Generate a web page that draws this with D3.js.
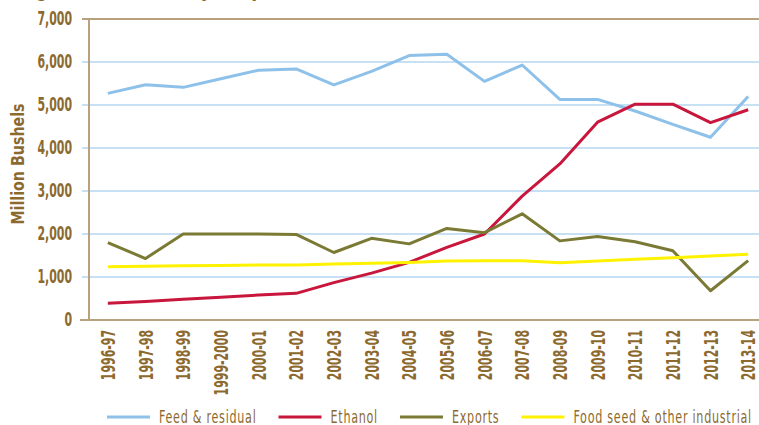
<!DOCTYPE html>
<html>
<head>
<meta charset="utf-8">
<script src="https://cdn.jsdelivr.net/npm/d3@7"></script>
<style>
  body { margin: 0; background: #fff; overflow: hidden; }
  text { font-family: "DejaVu Sans Condensed", "Liberation Sans", sans-serif; fill: #8c6a2f; }
</style>
</head>
<body>
<svg id="chart"></svg>
<script>
'use strict';

var width = 759, height = 425;

var categories = ['1996-97', '1997-98', '1998-99', '1999-2000', '2000-01', '2001-02', '2002-03', '2003-04', '2004-05',
  '2005-06', '2006-07', '2007-08', '2008-09', '2009-10', '2010-11', '2011-12', '2012-13', '2013-14'];
var feed_residual = [5270, 5470, 5410, 5610, 5810, 5840, 5470, 5780, 6150, 6180, 5550, 5930, 5130, 5130, 4860, 4550, 4250, 5200];
var ethanol = [390, 430, 480, 530, 580, 620, 870, 1090, 1340, 1690, 2000, 2880, 3630, 4600, 5020, 5020, 4590, 4890];
var exports_ = [1800, 1430, 2000, 2000, 2000, 1990, 1570, 1900, 1770, 2130, 2030, 2470, 1840, 1940, 1820, 1610, 680, 1380];
var food_seed = [1240, 1250, 1260, 1270, 1280, 1280, 1300, 1320, 1340, 1370, 1380, 1380, 1330, 1370, 1410, 1450, 1490, 1530];
var series_names = ['Feed & residual', 'Ethanol', 'Exports', 'Food seed & other industrial'];
var series_colors = ['#8ec1e9', '#c8163c', '#7b7a35', '#fff200'];
var y_ticks = [0, 1000, 2000, 3000, 4000, 5000, 6000, 7000];

var series = [feed_residual, ethanol, exports_, food_seed];

// the reference uses a tall condensed face; squeeze the condensed sans to match
var squeeze = 0.64;

var svg = d3.select('#chart').attr('width', width).attr('height', height);

var x = d3.scalePoint().domain(categories).range([89, 767]).padding(0.5);
var y = d3.scaleLinear().domain([0, 7000]).range([320, 19]);

// title, mostly above the visible frame
svg.append('text')
  .attr('transform', 'translate(0,-4) scale(0.8,1)')
  .style('font-size', '24px').style('font-weight', 'bold')
  .text('Usage of U.S. Corn by Purpose');

// gridlines
svg.selectAll('.grid').data(y_ticks.filter(function (d) { return d > 0 && d < 7000; }))
  .enter().append('line').attr('class', 'grid')
  .attr('x1', 82).attr('x2', 767)
  .attr('y1', function (d) { return y(d); }).attr('y2', function (d) { return y(d); })
  .style('stroke', '#b5d6f0').style('stroke-width', 1.5);

// top border at 7,000 and axes
svg.append('line').attr('x1', 82).attr('x2', 767).attr('y1', y(7000)).attr('y2', y(7000))
  .style('stroke', '#b8a27e').style('stroke-width', 2);
svg.append('line').attr('x1', 89).attr('x2', 89).attr('y1', y(7000)).attr('y2', y(0))
  .style('stroke', '#b8a27e').style('stroke-width', 2);
svg.append('line').attr('x1', 80).attr('x2', 767).attr('y1', y(0)).attr('y2', y(0))
  .style('stroke', '#b8a27e').style('stroke-width', 2);

// y tick labels
svg.selectAll('.y-label').data(y_ticks).enter().append('text').attr('class', 'y-label')
  .attr('text-anchor', 'end')
  .attr('transform', function (d) { return 'translate(72,' + (y(d) + 6) + ') scale(' + squeeze + ',1)'; })
  .style('font-size', '19px').style('font-weight', 'bold')
  .text(function (d) { return d3.format(',')(d); });

// x tick labels, rotated
svg.selectAll('.x-label').data(categories).enter().append('text').attr('class', 'x-label')
  .attr('text-anchor', 'end')
  .attr('transform', function (d) { return 'translate(' + (x(d) + 7) + ',330) rotate(-90) scale(' + squeeze + ',1)'; })
  .style('font-size', '19px').style('font-weight', 'bold')
  .text(function (d) { return d; });

// axis title
svg.append('text').attr('text-anchor', 'middle')
  .attr('transform', 'translate(24,164) rotate(-90) scale(0.88,1)')
  .style('font-size', '18px').style('font-weight', 'bold')
  .text('Million Bushels');

// series lines
var line = d3.line()
  .x(function (d, i) { return x(categories[i]); })
  .y(function (d) { return y(d); });

svg.selectAll('.series').data(series).enter().append('path').attr('class', 'series')
  .attr('d', line)
  .style('fill', 'none')
  .style('stroke', function (d, i) { return series_colors[i]; })
  .style('stroke-width', 3)
  .style('stroke-linejoin', 'round');

// legend
var legend_x = 107;
var legend_squeeze = 0.73;
series_names.forEach(function (name, i) {
  var g = svg.append('g').attr('transform', 'translate(' + legend_x + ',417)');
  g.append('line').attr('x1', 0).attr('x2', 43).attr('y1', 0).attr('y2', 0)
    .style('stroke', series_colors[i]).style('stroke-width', 3);
  var t = g.append('text').attr('transform', 'translate(52,6) scale(' + legend_squeeze + ',1)')
    .style('font-size', '17px').style('letter-spacing', '1px').text(name);
  legend_x += 52 + t.node().getComputedTextLength() * legend_squeeze + 22;
});
</script>
</body>
</html>
